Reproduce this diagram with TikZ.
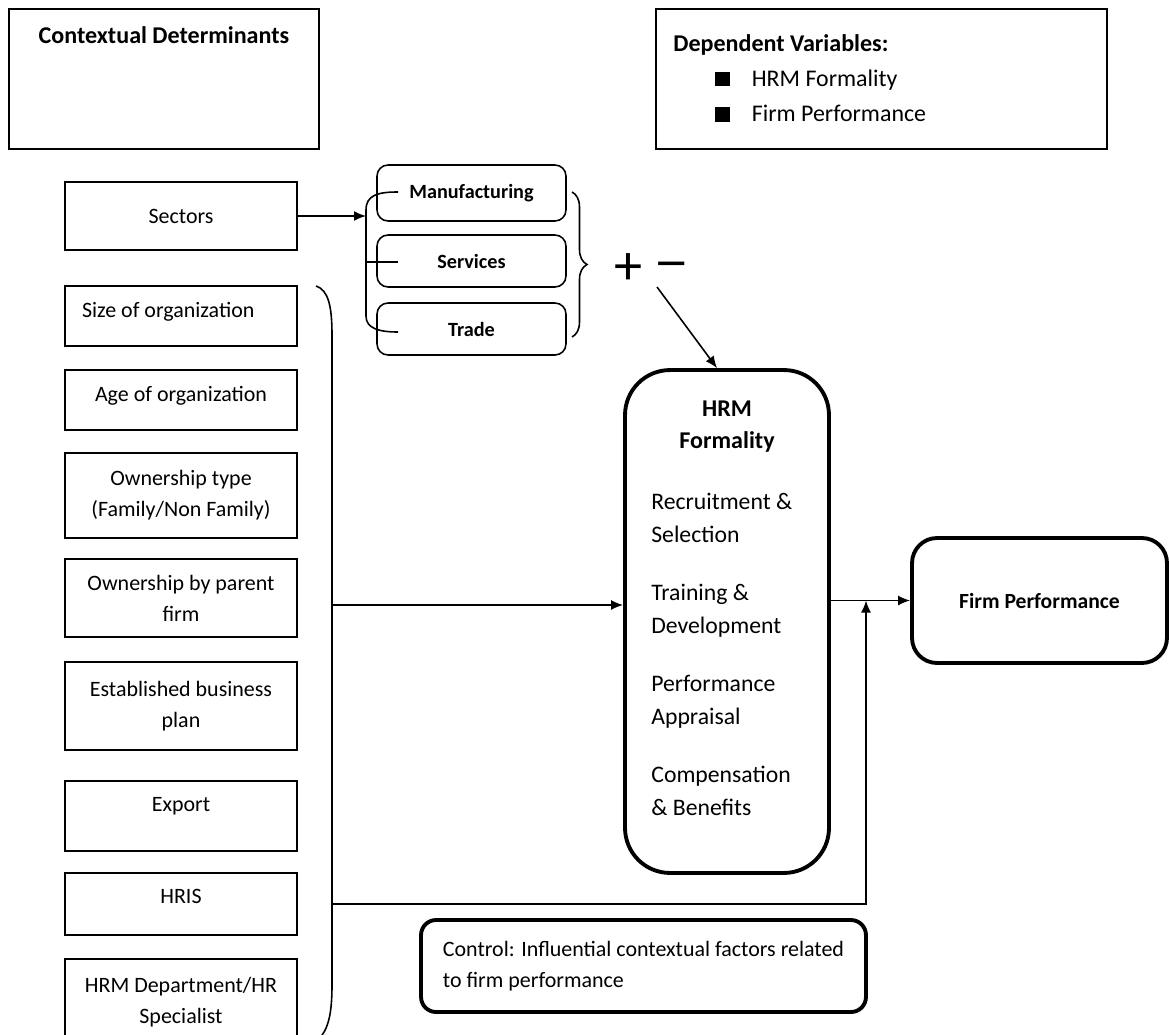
\documentclass[tikz,border=0pt]{standalone}
\usepackage{fontspec}
\setmainfont{Carlito}
\usetikzlibrary{arrows.meta,decorations.pathreplacing}
\newcommand{\headfont}{\fontsize{12.3}{18}\selectfont\bfseries}
\newcommand{\bigheadfont}{\fontsize{13.7}{18.2}\selectfont\bfseries}
\newcommand{\boxfont}{\fontsize{12.5}{17.6}\selectfont}
\newcommand{\secfont}{\fontsize{11.5}{14}\selectfont\bfseries}
\newcommand{\listfont}{\fontsize{13.6}{20}\selectfont}
\newcommand{\hrmfont}{\fontsize{13.5}{18.8}\selectfont}
\newcommand{\signfont}{\fontsize{32}{32}\selectfont}
\tikzset{
  >={Latex[length=2.4mm,width=2mm]},
  plainbox/.style={draw, line width=0.9pt, inner sep=0pt},
  ctxbox/.style={draw, line width=0.9pt, minimum width=4.64cm, align=center, font=\boxfont},
  secbox/.style={draw, line width=0.9pt, rounded corners=0.22cm, minimum width=3.78cm, font=\secfont},
  bigbox/.style={draw, line width=2.2pt, rounded corners=#1},
  toptxt/.style={text depth=#1},
  link/.style={line width=0.9pt}
}

\begin{document}
\begin{tikzpicture}[x=0.02cm, y=-0.02cm]
\useasboundingbox (0,0) rectangle (1169,1034);
\clip (0,0) rectangle (1169,1034);

% header boxes
\node[plainbox, minimum width=6.2cm, minimum height=2.8cm] (ctx) at (164,79) {};
\node[font=\bigheadfont] (ctxtitle) at (164,35) {Contextual Determinants};
\node[plainbox, minimum width=9.02cm, minimum height=2.8cm] (dep) at (881.5,79) {};
\node[anchor=north west, inner sep=0pt, align=left, font=\listfont] (deptext) at (673,34)
  {{\bigheadfont Dependent Variables:}\\
   \hspace*{0.84cm}\rule{0.29cm}{0.29cm}\hspace{0.44cm}HRM Formality\\
   \hspace*{0.84cm}\rule{0.29cm}{0.29cm}\hspace{0.44cm}Firm Performance};

% contextual factors
\node[ctxbox, minimum height=1.36cm] (sectors) at (181,216) {Sectors};
\node[ctxbox, toptxt=0.24cm, minimum height=1.2cm, align=flush left, text width=3.96cm, inner xsep=0.34cm] (size) at (181,316) {Size of organization};
\node[ctxbox, toptxt=0.24cm, minimum height=1.2cm] (age) at (181,400) {Age of organization};
\node[ctxbox, minimum height=1.7cm] (owntype) at (181,495.5) {Ownership type\\(Family/Non Family)};
\node[ctxbox, minimum height=1.56cm] (parent) at (181,598) {Ownership by parent\\firm};
\node[ctxbox, minimum height=1.76cm] (plan) at (181,706) {Established business\\plan};
\node[ctxbox, toptxt=0.48cm, minimum height=1.4cm] (export) at (181,816) {Export};
\node[ctxbox, toptxt=0.32cm, minimum height=1.24cm] (hris) at (181,904) {HRIS};
\node[ctxbox, minimum height=1.72cm] (hrmdept) at (181,1002) {HRM Department/HR\\Specialist};

% sectors
\node[secbox, minimum height=1.12cm] (manu) at (471.5,193) {Manufacturing};
\node[secbox, minimum height=1.04cm] (serv) at (471.5,261) {Services};
\node[secbox, minimum height=1.04cm] (trade) at (471.5,329) {Trade};
\coordinate (sbrace) at (366,262);
\draw[link] (398,192) .. controls (378,192) and (366,195) .. (366,210) -- (366,316) .. controls (366,328) and (378,332) .. (398,332);
\draw[line width=1.4pt] (sbrace) -- (398,262);
\draw[link,->] (sectors.east) -- (sectors.east -| sbrace);
\draw[link, decorate, decoration={brace, amplitude=0.3cm}] (572,192) -- (572,337);
\node[font=\signfont] (plus) at (628.5,269) {+};
\node[font=\signfont] (minus) at (672,271) {\scalebox{1.3}[1]{–}};
\coordinate (pmtail) at (657,287);

% main boxes
\node[bigbox=0.9cm, minimum width=4.08cm, minimum height=10.06cm] (hrm) at (727,621.5) {};
\node[font=\bigheadfont, align=center] (hrmhead) at (727,427) {HRM\\Formality};
\node[anchor=north west, inner sep=0pt, align=left, font=\hrmfont] (hrmlist) at (651,493)
  {Recruitment \&\\Selection\\[0.5cm]Training \&\\Development\\[0.5cm]Performance\\Appraisal\\[0.5cm]Compensation\\\& Benefits};
\node[bigbox=0.5cm, minimum width=5.1cm, minimum height=2.5cm, font=\headfont] (fp) at (1039.5,600.5) {Firm Performance};
\node[bigbox=0.3cm, minimum width=8.9cm, minimum height=1.84cm, align=left, font=\boxfont] (ctl) at (643.5,966)
  {Control: Influential contextual factors related\\to firm performance};

% brace and links
\draw[link] (316,286) .. controls (328,290) and (332,305) .. (332,335) -- (332,985) .. controls (332,1015) and (328,1030) .. (318,1040);
\coordinate (bmid) at (332,605);
\coordinate (bbot) at (332,904);
\coordinate (ctljoin) at (866,904);
\draw[link,->] (pmtail) -- ([xshift=-0.2cm]hrm.north);
\draw[link,->] (bmid) -- (bmid -| hrm.west);
\draw[link,->] (hrm.east |- fp.west) -- (fp.west);
\draw[link,->] (bbot) -- (ctljoin) -- (ctljoin |- fp.west);
\end{tikzpicture}
\end{document}
